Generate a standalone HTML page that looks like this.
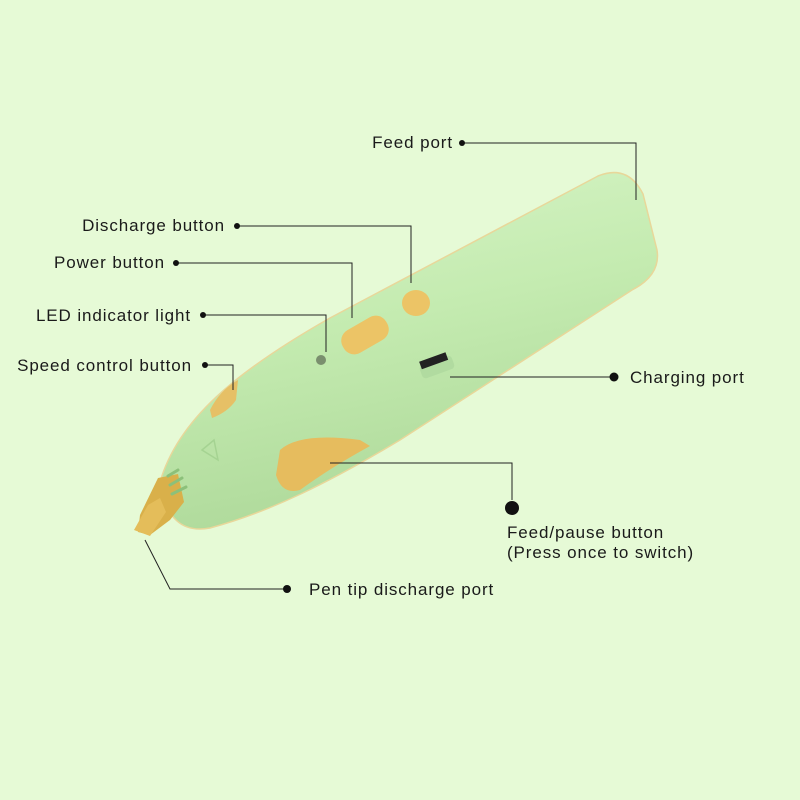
<!DOCTYPE html>
<html><head><style>
body{margin:0;background:#e6fad6;}
svg{display:block}
text{font-family:"Liberation Sans",sans-serif;font-size:17px;letter-spacing:0.9px;fill:#1a1a1a}
</style></head><body>
<svg width="800" height="800" viewBox="0 0 800 800">
<rect width="800" height="800" fill="#e6fad6"/>
<defs>
<linearGradient id="g" x1="0" y1="0" x2="0.3" y2="1">
<stop offset="0" stop-color="#d8f5c8"/><stop offset="0.5" stop-color="#c4ebb0"/><stop offset="1" stop-color="#aed99a"/>
</linearGradient>
</defs>
<!-- pen body -->
<path d="M160 482 C178 420 235 372 330 318 L598 176 Q628 164 643 194 L657 250 Q661 275 632 290 L400 440 C330 482 270 512 210 528 Q168 536 160 482 Z" fill="url(#g)" stroke="#e8d79a" stroke-width="1.5"/>
<!-- tip -->
<path d="M158 478 L178 474 L184 502 L170 520 L150 535 L138 532 L140 515 Z" fill="#d9b04a"/>
<path d="M134 530 L148 505 L160 498 L166 512 L150 536 Z" fill="#e4bd5a"/>
<!-- vents -->
<g stroke="#8cc07a" stroke-width="3" stroke-linecap="round">
<line x1="168" y1="476" x2="178" y2="470"/><line x1="170" y1="485" x2="182" y2="478"/><line x1="172" y1="494" x2="186" y2="487"/>
</g>
<!-- speed button -->
<path d="M210 410 Q220 390 238 380 L236 400 Q228 412 212 418 Z" fill="#e6c066"/>
<!-- triangle -->
<path d="M202 450 L214 440 L218 460 Z" fill="none" stroke="#a5d392" stroke-width="1.5"/>
<!-- feed/pause button -->
<path d="M280 450 Q300 432 360 440 L370 446 Q330 468 300 490 Q282 495 276 475 Z" fill="#e6bc5e"/>
<!-- power button -->
<g transform="rotate(-30 365 335)"><rect x="340" y="322" width="50" height="26" rx="12" fill="#ecc466"/></g>
<!-- discharge button -->
<ellipse cx="416" cy="303" rx="14" ry="13" fill="#ecc466"/>
<!-- LED -->
<circle cx="321" cy="360" r="5" fill="#7a8f6e"/>
<!-- charging port -->
<g transform="rotate(-20 437 367)"><rect x="420" y="360" width="34" height="14" rx="4" fill="#b1dba0"/><rect x="422" y="356" width="28" height="8" fill="#222"/></g>
<!-- connectors -->
<g stroke="#222" stroke-width="1" fill="none">
<polyline points="462,143 636,143 636,200"/>
<polyline points="237,226 411,226 411,283"/>
<polyline points="176,263 352,263 352,318"/>
<polyline points="203,315 326,315 326,352"/>
<polyline points="205,365 233,365 233,390"/>
<polyline points="450,377 614,377"/>
<polyline points="330,463 512,463 512,500"/>
<polyline points="145,540 170,589 287,589"/>
</g>
<g fill="#111">
<circle cx="462" cy="143" r="3"/><circle cx="237" cy="226" r="3"/><circle cx="176" cy="263" r="3"/>
<circle cx="203" cy="315" r="3"/><circle cx="205" cy="365" r="3"/><circle cx="614" cy="377" r="4.5"/>
<circle cx="512" cy="508" r="7"/><circle cx="287" cy="589" r="4"/>
</g>
<text x="453" y="148" text-anchor="end">Feed port</text>
<text x="225" y="231" text-anchor="end">Discharge button</text>
<text x="165" y="268" text-anchor="end">Power button</text>
<text x="191" y="321" text-anchor="end">LED indicator light</text>
<text x="192" y="371" text-anchor="end">Speed control button</text>
<text x="630" y="383">Charging port</text>
<text x="507" y="538">Feed/pause button</text>
<text x="507" y="558">(Press once to switch)</text>
<text x="309" y="595">Pen tip discharge port</text>
</svg>
</body></html>
